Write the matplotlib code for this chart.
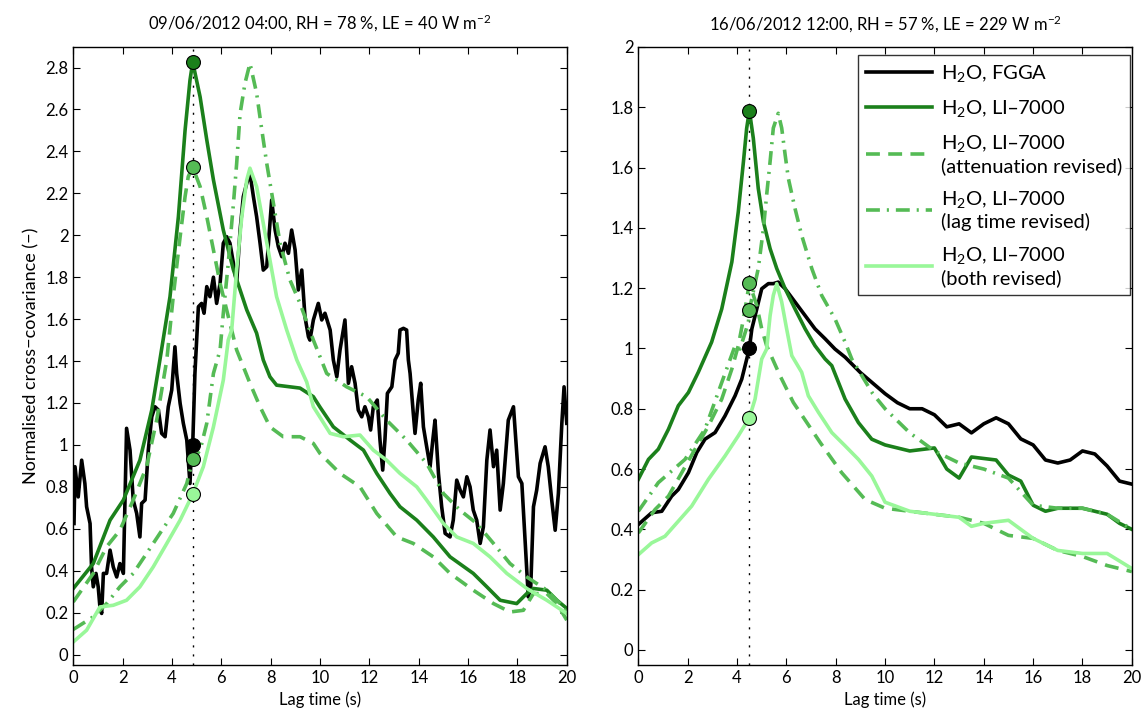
import matplotlib
matplotlib.use('Agg')
import matplotlib.pyplot as plt
from matplotlib.ticker import MultipleLocator, FormatStrFormatter

plt.rcParams['font.family'] = ['Lato', 'DejaVu Sans']
plt.rcParams['mathtext.default'] = 'regular'
plt.rcParams['lines.scale_dashes'] = False

# ---- data: left panel (09/06/2012 04:00) ----
l_fgga_x = [0.03, 0.07, 0.20, 0.34, 0.47, 0.54, 0.68, 0.74, 0.81, 0.92, 1.01, 1.08, 1.15, 1.22, 1.35, 1.49,
            1.62, 1.76, 1.89, 2.03, 2.16, 2.30, 2.43, 2.57, 2.70, 2.77, 2.91, 3.04, 3.18, 3.31, 3.45, 3.58,
            3.72, 3.85, 3.99, 4.12, 4.19, 4.33, 4.46, 4.60, 4.73, 4.80, 4.84, 4.93, 5.00, 5.07, 5.20, 5.30,
            5.41, 5.54, 5.68, 5.81, 5.95, 6.08, 6.22, 6.35, 6.49, 6.62, 6.76, 6.89, 7.03, 7.16, 7.30, 7.43,
            7.57, 7.70, 7.84, 7.97, 8.04, 8.18, 8.31, 8.45, 8.58, 8.72, 8.85, 8.99, 9.12, 9.26, 9.39, 9.53,
            9.59, 9.73, 9.93, 10.07, 10.20, 10.41, 10.54, 10.68, 10.81, 11.01, 11.15, 11.28, 11.42, 11.55,
            11.69, 11.82, 11.96, 12.05, 12.16, 12.32, 12.43, 12.54, 12.63, 12.73, 12.91, 13.04, 13.17, 13.24,
            13.38, 13.51, 13.58, 13.65, 13.78, 13.85, 13.98, 14.08, 14.19, 14.30, 14.46, 14.57, 14.66, 14.80,
            14.93, 15.07, 15.27, 15.40, 15.54, 15.68, 15.81, 15.95, 16.08, 16.21, 16.35, 16.49, 16.62, 16.76,
            16.89, 17.03, 17.16, 17.30, 17.43, 17.63, 17.84, 18.04, 18.18, 18.31, 18.44, 18.54, 18.65, 18.78,
            18.92, 19.12, 19.25, 19.39, 19.53, 19.66, 19.80, 19.89, 20.0]
l_fgga_y = [0.625, 0.896, 0.752, 0.927, 0.816, 0.705, 0.625, 0.418, 0.323, 0.387, 0.323, 0.227, 0.196, 0.387,
            0.387, 0.498, 0.418, 0.370, 0.434, 0.387, 1.079, 0.975, 0.737, 0.673, 0.561, 0.721, 0.737, 0.975,
            1.134, 1.182, 1.166, 1.055, 1.039, 1.182, 1.262, 1.468, 1.341, 1.198, 1.103, 1.023, 0.816, 1.007,
            1.000, 1.341, 1.500, 1.659, 1.675, 1.628, 1.755, 1.707, 1.800, 1.675, 1.771, 1.962, 1.993, 1.962,
            1.866, 1.771, 2.025, 2.184, 2.248, 2.296, 2.184, 2.089, 1.962, 1.834, 1.850, 2.057, 2.168, 2.025,
            1.946, 1.898, 1.962, 1.914, 2.025, 1.930, 1.739, 1.834, 1.611, 1.516, 1.500, 1.596, 1.675, 1.596,
            1.628, 1.548, 1.405, 1.325, 1.453, 1.596, 1.294, 1.373, 1.294, 1.166, 1.134, 1.182, 1.134, 1.071,
            1.182, 1.214, 1.023, 0.880, 1.023, 1.246, 1.277, 1.405, 1.437, 1.548, 1.556, 1.548, 1.405, 1.341,
            1.150, 1.055, 1.214, 1.294, 1.086, 1.007, 0.896, 1.023, 1.118, 0.864, 0.705, 0.578, 0.561, 0.641,
            0.832, 0.784, 0.752, 0.848, 0.800, 0.689, 0.641, 0.530, 0.609, 0.927, 1.071, 0.896, 0.975, 0.689,
            0.816, 1.118, 1.182, 0.848, 0.816, 0.546, 0.275, 0.323, 0.705, 0.784, 0.912, 0.991, 0.896, 0.737,
            0.593, 0.768, 1.103, 1.277, 1.103]

l_li_x = [0, 0.81, 1.49, 2.03, 2.70, 3.18, 3.51, 3.92, 4.26, 4.53, 4.73, 4.84, 5.14, 5.41, 5.68, 6.08, 6.49,
          7.03, 7.43, 7.70, 7.97, 8.24, 9.19, 9.73, 10.0, 10.54, 11.22, 11.76, 12.30, 12.84, 13.24, 13.92,
          14.59, 15.27, 16.21, 16.76, 17.30, 17.97, 18.38, 18.65, 19.19, 19.6, 20]
l_li_y = [0.315, 0.434, 0.641, 0.737, 0.927, 1.166, 1.405, 1.707, 2.089, 2.50, 2.74, 2.826, 2.66, 2.455,
          2.264, 2.025, 1.835, 1.644, 1.533, 1.405, 1.325, 1.285, 1.271, 1.23, 1.18, 1.086, 1.023, 0.975,
          0.864, 0.768, 0.705, 0.641, 0.561, 0.466, 0.387, 0.323, 0.259, 0.243, 0.291, 0.315, 0.307, 0.259,
          0.22]

l_att_x = [0, 0.81, 1.35, 1.89, 2.43, 2.97, 3.38, 3.79, 4.05, 4.33, 4.53, 4.66, 4.84, 5.14, 5.41, 5.68,
           5.95, 6.35, 6.62, 7.16, 7.57, 7.97, 8.51, 9.19, 9.73, 10.0, 10.81, 11.62, 12.30, 13.11, 13.78,
           14.59, 15.27, 16.21, 17.03, 17.70, 18.24, 18.65, 19.19, 19.6, 20]
l_att_y = [0.251, 0.387, 0.514, 0.593, 0.737, 0.896, 1.118, 1.405, 1.707, 1.993, 2.184, 2.28, 2.325, 2.232,
           2.089, 1.93, 1.771, 1.58, 1.453, 1.294, 1.182, 1.086, 1.039, 1.039, 1.007, 0.959, 0.864, 0.80,
           0.673, 0.561, 0.53, 0.466, 0.387, 0.307, 0.243, 0.203, 0.211, 0.291, 0.291, 0.243, 0.164]

l_lag_x = [0, 0.14, 0.81, 1.35, 1.89, 2.43, 2.97, 3.51, 4.05, 4.60, 4.84, 5.14, 5.41, 5.68, 5.95, 6.08,
           6.28, 6.49, 6.62, 6.76, 6.96, 7.16, 7.43, 7.64, 7.84, 8.11, 8.38, 8.78, 9.19, 9.73, 10.27, 11.08,
           11.89, 12.70, 13.51, 14.32, 15.0, 15.67, 16.35, 17.03, 17.70, 18.38, 19.19, 19.73, 20]
l_lag_y = [0.12, 0.13, 0.18, 0.243, 0.323, 0.387, 0.482, 0.578, 0.673, 0.816, 0.93, 0.975, 1.103, 1.341,
           1.453, 1.628, 1.866, 2.15, 2.34, 2.58, 2.726, 2.82, 2.678, 2.503, 2.343, 2.153, 1.962, 1.787, 1.675,
           1.50, 1.341, 1.277, 1.23, 1.118, 1.023, 0.912, 0.768, 0.689, 0.625, 0.53, 0.434, 0.37, 0.307,
           0.243, 0.2]

l_both_x = [0, 0.54, 1.08, 1.62, 2.16, 2.70, 3.24, 3.79, 4.33, 4.84, 5.27, 5.68, 6.08, 6.28, 6.42, 6.62,
            6.83, 7.03, 7.16, 7.43, 7.70, 7.97, 8.24, 8.65, 9.06, 9.46, 9.73, 10.41, 10.94, 11.62, 12.16,
            12.70, 13.24, 13.92, 14.32, 15.0, 15.54, 16.21, 16.89, 17.57, 18.38, 19.19, 20]
l_both_y = [0.06, 0.116, 0.227, 0.235, 0.259, 0.323, 0.418, 0.53, 0.641, 0.765, 0.896, 1.086, 1.309, 1.50,
            1.548, 1.834, 2.089, 2.264, 2.32, 2.232, 2.057, 1.882, 1.707, 1.548, 1.405, 1.30, 1.182, 1.055,
            1.039, 1.047, 0.975, 0.927, 0.864, 0.80, 0.737, 0.625, 0.561, 0.53, 0.466, 0.387, 0.315, 0.259,
            0.196]

l_lag0 = 4.84
l_marks = [1.0, 2.826, 2.325, 0.932, 0.765]

# ---- data: right panel (16/06/2012 12:00) ----
r_fgga_x = [0, 0.54, 0.95, 1.35, 1.62, 2.03, 2.37, 2.70, 3.11, 3.51, 3.92, 4.19, 4.46, 4.5, 4.60, 4.80,
            5.0, 5.27, 5.47, 5.67, 5.95, 6.35, 6.76, 7.16, 7.57, 7.97, 8.38, 9.0, 10.0, 10.5, 11.0, 11.5,
            12.0, 12.5, 13.0, 13.5, 14.0, 14.5, 15.0, 15.5, 16.0, 16.5, 17.0, 17.5, 18.0, 18.5, 19.0, 19.5,
            20.0]
r_fgga_y = [0.416, 0.455, 0.46, 0.51, 0.532, 0.588, 0.655, 0.699, 0.721, 0.776, 0.843, 0.898, 0.987, 1.0,
            1.065, 1.131, 1.198, 1.215, 1.215, 1.22, 1.198, 1.154, 1.109, 1.065, 1.032, 0.998, 0.971, 0.92,
            0.85, 0.82, 0.80, 0.80, 0.78, 0.74, 0.75, 0.72, 0.75, 0.77, 0.75, 0.70, 0.68, 0.63, 0.62, 0.63,
            0.66, 0.65, 0.61, 0.56, 0.55]

r_li_x = [0, 0.41, 0.81, 1.22, 1.62, 2.03, 2.43, 2.97, 3.38, 3.79, 4.05, 4.26, 4.39, 4.5, 4.66, 4.86, 5.07,
          5.34, 5.61, 5.95, 6.35, 6.76, 7.16, 7.57, 7.84, 8.38, 8.92, 9.46, 10.0, 11.0, 12.0, 12.5, 13.0,
          13.5, 14.5, 15.0, 15.5, 16.0, 16.5, 17.0, 18.0, 19.0, 19.5, 20]
r_li_y = [0.566, 0.632, 0.666, 0.732, 0.81, 0.854, 0.921, 1.021, 1.131, 1.287, 1.453, 1.62, 1.73, 1.789,
          1.697, 1.531, 1.42, 1.331, 1.265, 1.198, 1.131, 1.065, 1.009, 0.965, 0.943, 0.832, 0.754, 0.699,
          0.68, 0.66, 0.67, 0.60, 0.57, 0.64, 0.63, 0.58, 0.56, 0.48, 0.46, 0.47, 0.47, 0.45, 0.42, 0.40]

r_att_x = [0, 0.68, 1.22, 1.76, 2.30, 2.84, 3.38, 3.79, 4.05, 4.26, 4.5, 4.80, 5.0, 5.2, 5.74, 6.28, 6.83,
           7.37, 8.24, 9.19, 10.0, 11.0, 12.0, 13.0, 14.0, 15.0, 16.0, 17.0, 18.0, 19.0, 20]
r_att_y = [0.388, 0.466, 0.51, 0.588, 0.666, 0.743, 0.832, 0.932, 1.009, 1.098, 1.217, 1.142, 1.065, 1.009,
           0.91, 0.821, 0.754, 0.688, 0.588, 0.499, 0.47, 0.46, 0.45, 0.44, 0.42, 0.38, 0.37, 0.33, 0.31,
           0.28, 0.26]

r_lag_x = [0, 0.81, 1.89, 2.70, 3.38, 3.92, 4.12, 4.46, 4.5, 4.86, 5.07, 5.20, 5.34, 5.47, 5.67, 5.81,
           5.95, 6.08, 6.35, 6.62, 7.03, 7.43, 7.97, 8.38, 8.65, 9.5, 10.0, 11.0, 12.0, 13.0, 14.0, 15.0,
           16.0, 17.0, 18.0, 19.0, 20]
r_lag_y = [0.46, 0.555, 0.632, 0.732, 0.887, 1.009, 0.998, 1.087, 1.128, 1.265, 1.398, 1.509, 1.62, 1.731,
           1.78, 1.731, 1.642, 1.564, 1.464, 1.375, 1.265, 1.176, 1.098, 1.021, 0.965, 0.85, 0.80, 0.72,
           0.66, 0.62, 0.60, 0.57, 0.48, 0.47, 0.47, 0.45, 0.40]

r_both_x = [0, 0.54, 1.08, 1.62, 2.16, 2.84, 3.51, 4.05, 4.5, 4.73, 5.0, 5.2, 5.34, 5.47, 5.61, 5.81, 6.01,
            6.22, 6.62, 6.89, 7.30, 7.84, 8.38, 8.92, 9.46, 10.0, 11.0, 12.0, 13.0, 13.5, 14.0, 15.0, 16.0,
            17.0, 18.0, 19.0, 20]
r_both_y = [0.316, 0.355, 0.377, 0.427, 0.477, 0.566, 0.643, 0.71, 0.77, 0.832, 0.965, 0.998, 1.109, 1.176,
            1.215, 1.154, 1.065, 0.976, 0.921, 0.843, 0.788, 0.721, 0.677, 0.632, 0.577, 0.49, 0.46, 0.45,
            0.44, 0.41, 0.42, 0.43, 0.37, 0.33, 0.32, 0.32, 0.27]

r_lag0 = 4.5
r_marks = [1.0, 1.789, 1.217, 1.128, 0.77]

titles = ['09/06/2012 04:00, RH = 78 %, LE = 40 W m$^{-2}$',
          '16/06/2012 12:00, RH = 57 %, LE = 229 W m$^{-2}$']
labels = ['H$_2$O, FGGA', 'H$_2$O, LI\u20137000', 'H$_2$O, LI\u20137000\n(attenuation revised)',
          'H$_2$O, LI\u20137000\n(lag time revised)', 'H$_2$O, LI\u20137000\n(both revised)']

c_dark = '#1b801b'
c_mid = '#55bb55'
c_light = '#99f799'
styles = [dict(color='black', ls='-'),
          dict(color=c_dark, ls='-'),
          dict(color=c_mid, ls=(0, (10, 6))),
          dict(color=c_mid, ls=(0, (10, 5, 1.5, 5))),
          dict(color=c_light, ls='-')]
mark_fc = ['black', c_dark, c_mid, c_mid, c_light]

fig = plt.figure(figsize=(11.45, 7.17), dpi=100)
ax1 = fig.add_axes([0.064, 0.0725, 0.431, 0.8625])
ax2 = fig.add_axes([0.5575, 0.0725, 0.431, 0.862])

panels = [
    (ax1, [(l_fgga_x, l_fgga_y), (l_li_x, l_li_y), (l_att_x, l_att_y), (l_lag_x, l_lag_y), (l_both_x, l_both_y)],
     l_lag0, l_marks, (-0.05, 2.9)),
    (ax2, [(r_fgga_x, r_fgga_y), (r_li_x, r_li_y), (r_att_x, r_att_y), (r_lag_x, r_lag_y), (r_both_x, r_both_y)],
     r_lag0, r_marks, (-0.05, 2.0)),
]

for i, (ax, series, lag0, marks, ylim) in enumerate(panels):
    ax.plot([lag0, lag0], ylim, color='black', lw=1.0, ls=(0, (1.5, 5)), zorder=1)
    for (xs, ys), st, lab in zip(series, styles, labels):
        ax.plot(xs, ys, lw=2.6, label=lab, zorder=2, **st)
    for m, fc in zip(marks, mark_fc):
        ax.plot(lag0, m, 'o', ms=10, mfc=fc, mec='black', mew=0.8, zorder=4)
    ax.set_xlim(0, 20)
    ax.set_ylim(*ylim)
    ax.xaxis.set_major_locator(MultipleLocator(2))
    ax.yaxis.set_major_locator(MultipleLocator(0.2))
    ax.yaxis.set_major_formatter(FormatStrFormatter('%g'))
    ax.tick_params(direction='in', top=True, right=True, labelsize=12, length=5, width=0.8)
    for s in ax.spines.values():
        s.set_linewidth(1.0)
    ax.set_xlabel('Lag time (s)', fontsize=12, labelpad=4)
    ax.set_title(titles[i], fontsize=12, pad=12)

ax1.set_ylabel('Normalised cross\u2212covariance (\u2212)', fontsize=13, labelpad=4)

leg = ax2.legend(loc='upper right', bbox_to_anchor=(0.996, 0.987), fontsize=14.5, frameon=True, fancybox=False,
                 edgecolor='black', handlelength=3.3, labelspacing=0.7, borderpad=0.4, handletextpad=0.4,
                 borderaxespad=0.0)
leg.get_frame().set_linewidth(1.0)

fig.savefig('out.png', dpi=100)
